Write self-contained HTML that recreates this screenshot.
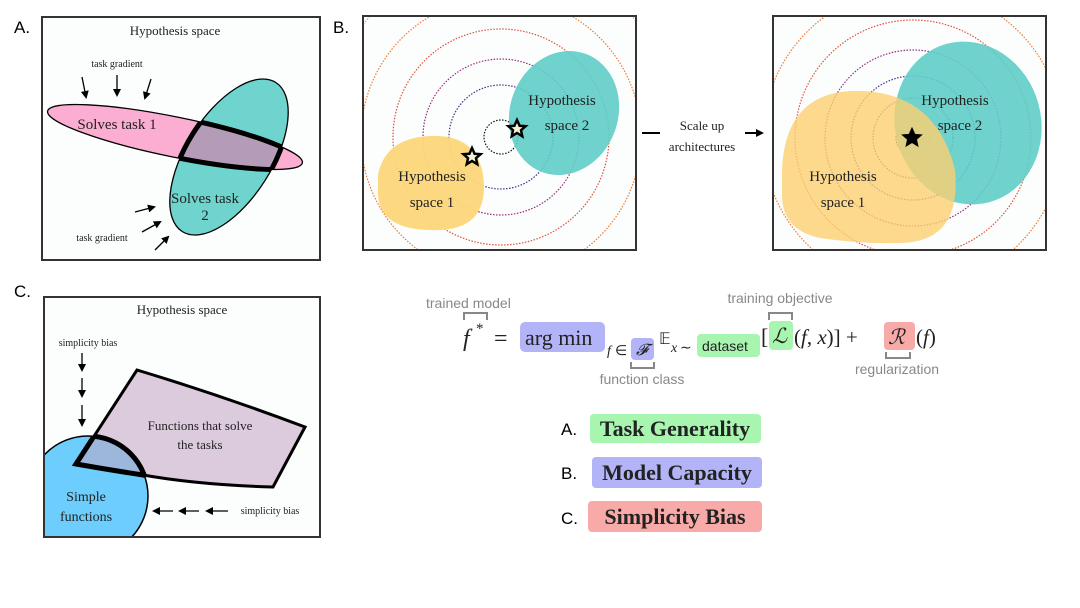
<!DOCTYPE html>
<html><head><meta charset="utf-8"><style>
html,body{margin:0;padding:0;background:#fff;}
svg{display:block;}
.s{font-family:"Liberation Serif",serif;fill:#222;}
.ss{font-family:"Liberation Sans",sans-serif;}
</style></head><body>
<svg width="1080" height="608" viewBox="0 0 1080 608" xmlns="http://www.w3.org/2000/svg">
<defs>
<marker id="ah" markerWidth="8" markerHeight="8" refX="6" refY="4" orient="auto" markerUnits="userSpaceOnUse"><path d="M0,0 L8,4 L0,8 z" fill="#000"/></marker>
<clipPath id="boxA"><rect x="42" y="17" width="278" height="243"/></clipPath>
<clipPath id="teal"><ellipse cx="229" cy="157" rx="88" ry="43" transform="rotate(-58 229 157)"/></clipPath>
<clipPath id="pink"><ellipse cx="175" cy="137" rx="130" ry="20" transform="rotate(11.5 175 137)"/></clipPath>
<clipPath id="boxB1"><rect x="363" y="16" width="273" height="234"/></clipPath>
<clipPath id="boxB2"><rect x="773" y="16" width="273" height="234"/></clipPath>
<clipPath id="boxC"><rect x="44" y="297" width="276" height="240"/></clipPath>
<clipPath id="circC"><circle cx="88" cy="496" r="60"/></clipPath>
<clipPath id="polyC"><path d="M137,370 Q220,395 305,427 L273,487 Q200,485 143,475 Q110,470 76,464 Z"/></clipPath>
<path id="star" d="M0,-9 L2.6,-3.2 L8.6,-2.8 L4,1.2 L5.3,7.3 L0,4 L-5.3,7.3 L-4,1.2 L-8.6,-2.8 L-2.6,-3.2 Z"/>
</defs>

<text x="14" y="33" class="ss" font-size="17">A.</text>
<text x="333" y="33" class="ss" font-size="17">B.</text>
<text x="14" y="297" class="ss" font-size="17">C.</text>

<!-- Panel A -->
<rect x="42" y="17" width="278" height="243" fill="#fcfefe" stroke="#333" stroke-width="2"/>
<text x="175" y="35" class="s" font-size="13" text-anchor="middle">Hypothesis space</text>
<text x="117" y="67" class="s" font-size="10" text-anchor="middle">task gradient</text>
<line x1="82" y1="77" x2="86" y2="97" stroke="#000" stroke-width="1.3" marker-end="url(#ah)"/>
<line x1="117" y1="75" x2="117" y2="95" stroke="#000" stroke-width="1.3" marker-end="url(#ah)"/>
<line x1="151" y1="79" x2="145" y2="98" stroke="#000" stroke-width="1.3" marker-end="url(#ah)"/>
<g clip-path="url(#boxA)">
<ellipse cx="175" cy="137" rx="130" ry="20" transform="rotate(11.5 175 137)" fill="#fbaed2" stroke="#000" stroke-width="1.3"/>
<ellipse cx="229" cy="157" rx="88" ry="43" transform="rotate(-58 229 157)" fill="#6fd4ce" stroke="#000" stroke-width="1.3"/>
<g clip-path="url(#teal)"><ellipse cx="175" cy="137" rx="130" ry="20" transform="rotate(11.5 175 137)" fill="#b49cb9" stroke="#000" stroke-width="5"/></g>
<g clip-path="url(#pink)"><ellipse cx="229" cy="157" rx="88" ry="43" transform="rotate(-58 229 157)" fill="none" stroke="#000" stroke-width="5"/></g>
</g>
<text x="117" y="129" class="s" font-size="15" text-anchor="middle">Solves task 1</text>
<text x="205" y="203" class="s" font-size="15" text-anchor="middle">Solves task</text>
<text x="205" y="220" class="s" font-size="15" text-anchor="middle">2</text>
<line x1="135" y1="212" x2="154" y2="207" stroke="#000" stroke-width="1.3" marker-end="url(#ah)"/>
<line x1="142" y1="232" x2="160" y2="222" stroke="#000" stroke-width="1.3" marker-end="url(#ah)"/>
<line x1="155" y1="250" x2="168" y2="237" stroke="#000" stroke-width="1.3" marker-end="url(#ah)"/>
<text x="102" y="241" class="s" font-size="10" text-anchor="middle">task gradient</text>

<!-- Panel B left -->
<rect x="363" y="16" width="273" height="234" fill="#fcfefe"/>
<g clip-path="url(#boxB1)" fill="none" stroke-dasharray="1.5 1.5" stroke-width="1.2">
<circle cx="501" cy="137" r="17" stroke="#111"/>
<circle cx="501" cy="137" r="52" stroke="#4a2a8a"/>
<circle cx="501" cy="137" r="78" stroke="#9a2a7a"/>
<circle cx="501" cy="137" r="108" stroke="#e0503a"/>
<circle cx="501" cy="137" r="140" stroke="#f07a30"/>
<circle cx="501" cy="137" r="178" stroke="#f5a030"/>
<ellipse cx="564" cy="113" rx="54" ry="63" transform="rotate(20 564 113)" fill="#5fcdc6" fill-opacity="0.9" stroke="none"/>
<path d="M378,175 Q385,138 430,136 Q482,134 484,185 Q485,228 440,230 Q380,232 378,195 Z" fill="#fcd77a" fill-opacity="0.95" stroke="none"/>
</g>
<rect x="363" y="16" width="273" height="234" fill="none" stroke="#333" stroke-width="2"/>
<text x="562" y="105" class="s" font-size="15" text-anchor="middle">Hypothesis</text>
<text x="567" y="130" class="s" font-size="15" text-anchor="middle">space 2</text>
<text x="432" y="181" class="s" font-size="15" text-anchor="middle">Hypothesis</text>
<text x="432" y="207" class="s" font-size="15" text-anchor="middle">space 1</text>
<use href="#star" transform="translate(517,129)" fill="#f5f0d8" stroke="#000" stroke-width="2.5"/>
<use href="#star" transform="translate(472,157)" fill="#f5f0d8" stroke="#000" stroke-width="2.5"/>

<line x1="642" y1="133" x2="660" y2="133" stroke="#000" stroke-width="2"/>
<line x1="745" y1="133" x2="762" y2="133" stroke="#000" stroke-width="2" marker-end="url(#ah)"/>
<text x="702" y="130" class="s" font-size="13" text-anchor="middle">Scale up</text>
<text x="702" y="151" class="s" font-size="13" text-anchor="middle">architectures</text>

<!-- Panel B right -->
<rect x="773" y="16" width="273" height="234" fill="#fcfefe"/>
<g clip-path="url(#boxB2)" fill="none" stroke-dasharray="1.5 1.5" stroke-width="1.2">
<circle cx="913" cy="138" r="17" stroke="#111"/>
<circle cx="913" cy="138" r="40" stroke="#2a3a9a"/>
<circle cx="913" cy="138" r="62" stroke="#4a2a8a"/>
<circle cx="913" cy="138" r="88" stroke="#9a2a7a"/>
<circle cx="913" cy="138" r="118" stroke="#e0503a"/>
<circle cx="913" cy="138" r="150" stroke="#f07a30"/>
<circle cx="913" cy="138" r="185" stroke="#f5a030"/>
<ellipse cx="968" cy="123" rx="73" ry="82" transform="rotate(-15 968 123)" fill="#5fcdc6" fill-opacity="0.9" stroke="none"/>
<path d="M782,170 Q785,95 850,91 Q935,88 955,170 Q962,242 900,243 Q860,244 820,238 Q782,230 782,195 Z" fill="#fcd070" fill-opacity="0.8" stroke="none"/>
</g>
<rect x="773" y="16" width="273" height="234" fill="none" stroke="#333" stroke-width="2"/>
<text x="955" y="105" class="s" font-size="15" text-anchor="middle">Hypothesis</text>
<text x="960" y="130" class="s" font-size="15" text-anchor="middle">space 2</text>
<text x="843" y="181" class="s" font-size="15" text-anchor="middle">Hypothesis</text>
<text x="843" y="207" class="s" font-size="15" text-anchor="middle">space 1</text>
<use href="#star" transform="translate(912,138) scale(1.1)" fill="#000" stroke="#000" stroke-width="1"/>

<!-- Panel C -->
<rect x="44" y="297" width="276" height="240" fill="#fcfefe"/>
<g clip-path="url(#boxC)">
<circle cx="88" cy="496" r="60" fill="#6dcdfc" stroke="#000" stroke-width="1.5"/>
<path d="M137,370 Q220,395 305,427 L273,487 Q200,485 143,475 Q110,470 76,464 Z" fill="#dccbdc" stroke="#000" stroke-width="3"/>
<g clip-path="url(#circC)"><path d="M137,370 Q220,395 305,427 L273,487 Q200,485 143,475 Q110,470 76,464 Z" fill="#9cb6dc" stroke="#000" stroke-width="5"/></g>
<g clip-path="url(#polyC)"><circle cx="88" cy="496" r="60" fill="none" stroke="#000" stroke-width="5"/></g>
</g>
<rect x="44" y="297" width="276" height="240" fill="none" stroke="#333" stroke-width="2"/>
<text x="182" y="314" class="s" font-size="13" text-anchor="middle">Hypothesis space</text>
<text x="88" y="346" class="s" font-size="10" text-anchor="middle">simplicity bias</text>
<line x1="82" y1="353" x2="82" y2="370" stroke="#000" stroke-width="1.3" marker-end="url(#ah)"/>
<line x1="82" y1="378" x2="82" y2="396" stroke="#000" stroke-width="1.3" marker-end="url(#ah)"/>
<line x1="82" y1="405" x2="82" y2="425" stroke="#000" stroke-width="1.3" marker-end="url(#ah)"/>
<text x="200" y="430" class="s" font-size="13" text-anchor="middle">Functions that solve</text>
<text x="200" y="449" class="s" font-size="13" text-anchor="middle">the tasks</text>
<text x="86" y="501" class="s" font-size="14" text-anchor="middle">Simple</text>
<text x="86" y="521" class="s" font-size="14" text-anchor="middle">functions</text>
<line x1="173" y1="511" x2="154" y2="511" stroke="#000" stroke-width="1.3" marker-end="url(#ah)"/>
<line x1="199" y1="511" x2="180" y2="511" stroke="#000" stroke-width="1.3" marker-end="url(#ah)"/>
<line x1="228" y1="511" x2="207" y2="511" stroke="#000" stroke-width="1.3" marker-end="url(#ah)"/>
<text x="270" y="514" class="s" font-size="10" text-anchor="middle">simplicity bias</text>

<!-- Equation -->
<g fill="#888" font-size="14" font-family="Liberation Sans, sans-serif">
<text x="426" y="308">trained model</text>
<text x="780" y="303" text-anchor="middle">training objective</text>
<text x="642" y="384" text-anchor="middle">function class</text>
<text x="897" y="374" text-anchor="middle">regularization</text>
</g>
<g fill="none" stroke="#888" stroke-width="2">
<path d="M464,320 V313 H487 V320"/>
<path d="M769,320 V313 H792 V320"/>
<path d="M631,362 V368 H654 V362"/>
<path d="M886,352 V358 H910 V352"/>
</g>
<rect x="520" y="322" width="85" height="30" rx="5" fill="#b3b3f8"/>
<rect x="631" y="338" width="23" height="22" rx="4" fill="#b3b3f8"/>
<rect x="697" y="334" width="63" height="23" rx="4" fill="#a8f5b0"/>
<rect x="769" y="321" width="24" height="29" rx="4" fill="#a8f5b0"/>
<rect x="884" y="322" width="31" height="28" rx="4" fill="#f8aaa8"/>
<g class="s" fill="#111">
<text x="463" y="346" font-size="24" font-style="italic">f</text>
<text x="476" y="333" font-size="15">*</text>
<text x="494" y="346" font-size="24">=</text>
<text x="525" y="345" font-size="22">arg min</text>
<text x="607" y="355" font-size="14" font-style="italic">f</text>
<text x="615" y="355" font-size="14">∈</text>
<text x="636" y="355" font-size="16" font-style="italic">𝓕</text>
<text x="659" y="344" font-size="16">𝔼</text>
<text x="671" y="352" font-size="14" font-style="italic">x</text>
<text x="680" y="352" font-size="14">∼</text>
<text x="702" y="351" font-size="14" font-family="Liberation Sans, sans-serif">dataset</text>
<text x="761" y="344" font-size="22">[</text>
<text x="772" y="343" font-size="21" font-style="italic">ℒ</text>
<text x="794" y="344" font-size="21">(<tspan font-style="italic">f</tspan>, <tspan font-style="italic">x</tspan>)] +</text>
<text x="888" y="344" font-size="21" font-style="italic">ℛ</text>
<text x="916" y="344" font-size="21">(<tspan font-style="italic">f</tspan>)</text>
</g>

<text x="561" y="435" font-size="17" font-family="Liberation Sans, sans-serif">A.</text>
<rect x="590" y="414" width="171" height="29" rx="4" fill="#a8f5b0"/>
<text x="675" y="436" class="s" font-size="22" font-weight="bold" text-anchor="middle" fill="#111">Task Generality</text>
<text x="561" y="479" font-size="17" font-family="Liberation Sans, sans-serif">B.</text>
<rect x="592" y="457" width="170" height="31" rx="4" fill="#b3b3f8"/>
<text x="677" y="480" class="s" font-size="22" font-weight="bold" text-anchor="middle" fill="#111">Model Capacity</text>
<text x="561" y="524" font-size="17" font-family="Liberation Sans, sans-serif">C.</text>
<rect x="588" y="501" width="174" height="31" rx="4" fill="#f8aaa8"/>
<text x="675" y="524" class="s" font-size="22" font-weight="bold" text-anchor="middle" fill="#111">Simplicity Bias</text>
</svg>
</body></html>
